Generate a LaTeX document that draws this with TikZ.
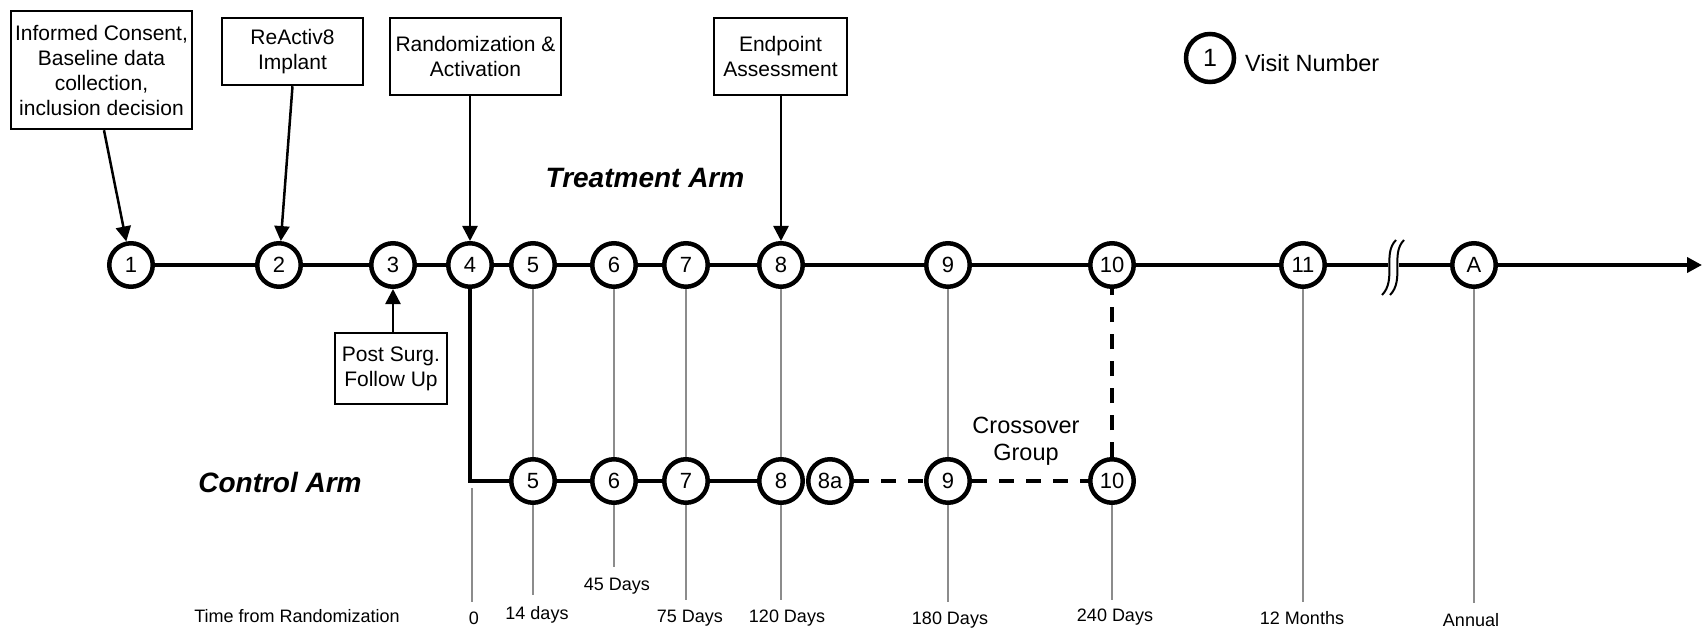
\documentclass[tikz,border=0pt]{standalone}
\usepackage{fontspec}
\setmainfont{Liberation Sans}
\usetikzlibrary{arrows.meta}
\definecolor{tickgray}{RGB}{140,140,140}
\begin{document}
\begin{tikzpicture}[x=1pt,y=-1pt,
  vis/.style={circle,draw,line width=4.5pt,minimum size=43.5pt,inner sep=0pt,fill=white,font=\fontsize{22}{24}\selectfont},
  lbox/.style={draw,line width=2.5pt,align=center,inner sep=2pt,font=\fontsize{21}{25}\selectfont},
  mainline/.style={line width=4pt},
  dashline/.style={line width=4pt,dash pattern=on 15pt off 12pt},
  tickline/.style={line width=2.5pt,draw=tickgray},
  arr/.style={line width=2.5pt,-{Triangle[length=15pt,width=15pt]}},
  tlabel/.style={font=\fontsize{18}{20}\selectfont,inner sep=0pt},
  armlabel/.style={font=\fontsize{28}{32}\selectfont\bfseries\itshape,inner sep=0pt}
]
\useasboundingbox (0,0) rectangle (1703,631);

% boxes
\node[lbox,minimum width=181pt,minimum height=118pt] (b1) at (101.5,70) {Informed Consent,\\Baseline data\\collection,\\inclusion decision};
\node[lbox,minimum width=141pt,minimum height=67pt] (b2) at (292.5,51.5) {ReActiv8\\Implant};
\node[lbox,minimum width=171pt,minimum height=77pt] (b3) at (475.5,56.5) {Randomization \&\\Activation};
\node[lbox,minimum width=133pt,minimum height=77pt] (b4) at (780.5,56.5) {Endpoint\\Assessment};
\node[lbox,minimum width=112pt,minimum height=71pt] (b5) at (391,368.5) {Post Surg.\\Follow Up};

% legend
\node[vis,minimum size=48pt,font=\fontsize{25}{27}\selectfont] (leg) at (1210,58) {1};
\node[anchor=west,font=\fontsize{23.5}{26}\selectfont,inner sep=0pt] (legtext) at (1245,63) {Visit Number};

% arm labels
\node[armlabel] (tarm) at (645,178) {Treatment Arm};
\node[armlabel] (carm) at (280,482) {Control Arm};
\node[align=center,font=\fontsize{23.5}{27.5}\selectfont,inner sep=0pt] (cross) at (1026,441) {Crossover\\Group};

% treatment visits
\node[vis] (t1) at (131,265) {1};
\node[vis] (t2) at (279,265) {2};
\node[vis] (t3) at (393,265) {3};
\node[vis] (t4) at (470,265) {4};
\node[vis] (t5) at (533,265) {5};
\node[vis] (t6) at (614,265) {6};
\node[vis] (t7) at (686,265) {7};
\node[vis] (t8) at (781,265) {8};
\node[vis] (t9) at (948,265) {9};
\node[vis] (t10) at (1112,265) {10};
\node[vis] (t11) at (1303,265) {11};
\node[vis] (tA) at (1474,265) {A};

% control visits
\node[vis] (c5) at (533,481) {5};
\node[vis] (c6) at (614,481) {6};
\node[vis] (c7) at (686,481) {7};
\node[vis] (c8) at (781,481) {8};
\node[vis] (c8a) at (830,481) {8a};
\node[vis] (c9) at (948,481) {9};
\node[vis] (c10) at (1112,481) {10};

% time labels
\node[tlabel] (ltime) at (297,616) {Time from Randomization};
\node[tlabel] (l0) at (474,618) {0};
\node[tlabel] (l14) at (537,615) {14 days};
\node[tlabel] (l45) at (617,586) {45 Days};
\node[tlabel] (l75) at (690,618) {75 Days};
\node[tlabel] (l120) at (787,618) {120 Days};
\node[tlabel] (l180) at (950,620) {180 Days};
\node[tlabel] (l240) at (1115,617) {240 Days};
\node[tlabel] (l12m) at (1302,618) {12 Months};
\node[tlabel] (lann) at (1471,620) {Annual};

% coordinates
\coordinate (corner) at (t4 |- c5);
\coordinate (brkL) at (1388,265);
\coordinate (brkR) at (1399,265);
\coordinate (tend) at (1702,265);
\coordinate (z0) at (472,488);
\coordinate (z1) at (472,602);
\coordinate (e5) at (533,595);
\coordinate (e6) at (614,567);
\coordinate (e7) at (686,600);
\coordinate (e8) at (781,600);
\coordinate (e9) at (948,602);
\coordinate (e10) at (1112,600);
\coordinate (e11) at (1303,602);
\coordinate (eA) at (1474,603);

% treatment line
\draw[mainline] (t1) -- (t2) -- (t3) -- (t4) -- (t5) -- (t6) -- (t7) -- (t8) -- (t9) -- (t10) -- (t11) -- (brkL);
\draw[mainline] (brkR) -- (tA);
\draw[mainline,-{Triangle[length=15pt,width=15pt]}] (tA) -- (tend);

% break marks
\draw[line width=2pt] (1382,295) .. controls (1397,280) and (1382,254) .. (1396,240);
\draw[line width=2pt] (1390,295) .. controls (1405,280) and (1390,254) .. (1404,240);

% control line
\draw[mainline] (t4) -- (corner) -- (c5) -- (c6) -- (c7) -- (c8);
\draw[dashline] (c8a) -- (c9) -- (c10);
\draw[dashline] (c10) -- (t10);

% gray ticks
\draw[tickline] (z0) -- (z1);
\draw[tickline] (t5) -- (c5);
\draw[tickline] (c5) -- (e5);
\draw[tickline] (t6) -- (c6);
\draw[tickline] (c6) -- (e6);
\draw[tickline] (t7) -- (c7);
\draw[tickline] (c7) -- (e7);
\draw[tickline] (t8) -- (c8);
\draw[tickline] (c8) -- (e8);
\draw[tickline] (t9) -- (c9);
\draw[tickline] (c9) -- (e9);
\draw[tickline] (c10) -- (e10);
\draw[tickline] (t11) -- (e11);
\draw[tickline] (tA) -- (eA);

% arrows from boxes
\draw[arr] ([xshift=2.5pt]b1.south) -- (t1);
\draw[arr] (b2.south) -- (t2);
\draw[arr] (t4 |- b3.south) -- (t4);
\draw[arr] (t8 |- b4.south) -- (t8);
\draw[arr] (t3 |- b5.north) -- (t3);
\end{tikzpicture}
\end{document}
